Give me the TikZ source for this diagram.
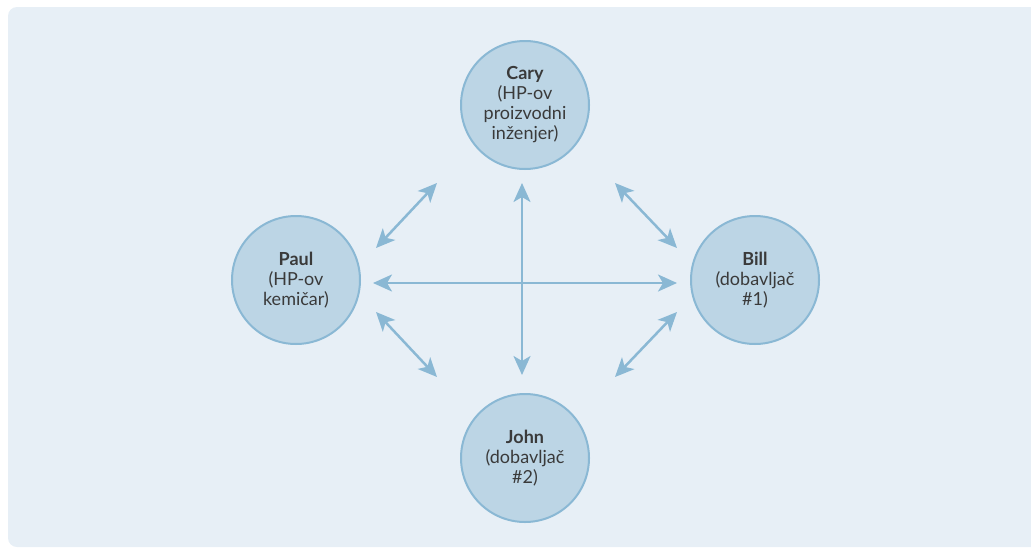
\documentclass[tikz,border=0pt]{standalone}
\usepackage{fontspec}
\setmainfont{Lato}
\usetikzlibrary{arrows.meta}

\definecolor{panel}{HTML}{E7EFF6}
\definecolor{disc}{HTML}{BCD5E5}
\definecolor{rim}{HTML}{8AB8D4}
\definecolor{ink}{HTML}{3A3A3A}

\tikzset{
	person/.style={circle, fill=disc, draw=rim, line width=2pt, minimum size=128pt,
		inner sep=0pt, align=center, text=ink, font=\fontsize{18}{20}\selectfont},
	link/.style={rim, line width=2.5pt,
		{Stealth[length=19pt,width=17pt,inset=5pt]}-{Stealth[length=19pt,width=17pt,inset=5pt]}},
}

\begin{document}
\begin{tikzpicture}[x=1pt,y=-1pt]
		\useasboundingbox (0,0) rectangle (1031,549);
		\begin{scope}
			\clip (0,0) rectangle (1031,549);
			\fill[panel, rounded corners=9pt] (8,7) rectangle (1050,547);
		\end{scope}
		% the four people
		\node[person] (cary) at (525,105) {\textbf{Cary}\\(HP-ov\\proizvodni\\inženjer)};
		\node[person] (paul) at (296,280) {\textbf{Paul}\\(HP-ov\\kemičar)};
		\node[person] (bill) at (755,280) {\textbf{Bill}\\(dobavljač\\\#1)};
		\node[person] (john) at (525,458) {\textbf{John}\\(dobavljač\\\#2)};
		% arrow ends
		\coordinate (ptl) at (376,248); \coordinate (ctl) at (437,183);
		\coordinate (ctr) at (615,183); \coordinate (btr) at (677,248);
		\coordinate (pbl) at (376,312); \coordinate (jbl) at (437,377);
		\coordinate (jbr) at (615,377); \coordinate (bbr) at (677,312);
		\coordinate (ph) at (373,283); \coordinate (bh) at (677,283);
		\coordinate (cv) at (522,183); \coordinate (jv) at (522,375);
		\draw[link] (ptl) -- (ctl);
		\draw[link] (ctr) -- (btr);
		\draw[link] (pbl) -- (jbl);
		\draw[link] (jbr) -- (bbr);
		\draw[link] (ph) -- (bh);
		\draw[link] (cv) -- (jv);
	\end{tikzpicture}
\end{document}
